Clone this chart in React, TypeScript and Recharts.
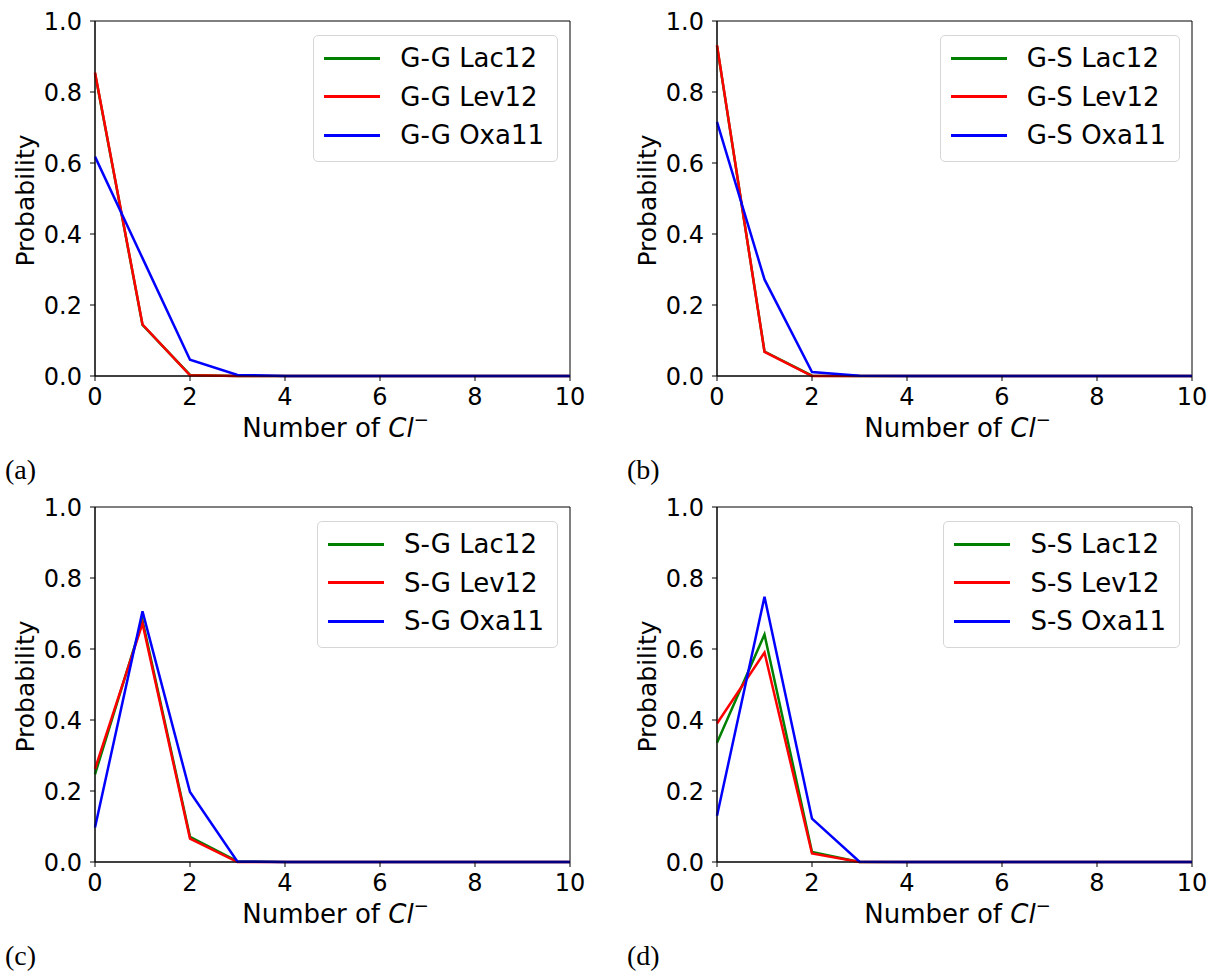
import { LineChart, Line, XAxis, YAxis, Legend, ReferenceArea, Label } from "recharts";

const counts = [0, 1, 2, 3, 4, 5, 6, 7, 8, 9, 10];
const xTicks = [0, 2, 4, 6, 8, 10];
const yTicks = [0, 0.2, 0.4, 0.6, 0.8, 1.0];
const seriesNames = ["Lac12", "Lev12", "Oxa11"];
const seriesColors = ["#008000", "#ff0000", "#0000ff"];

// (a) G-G
const ggLac12 = [0.853, 0.144, 0.003, 0, 0, 0, 0, 0, 0, 0, 0];
const ggLev12 = [0.855, 0.145, 0.002, 0, 0, 0, 0, 0, 0, 0, 0];
const ggOxa11 = [0.618, 0.332, 0.046, 0.003, 0, 0, 0, 0, 0, 0, 0];
// (b) G-S
const gsLac12 = [0.93, 0.069, 0.001, 0, 0, 0, 0, 0, 0, 0, 0];
const gsLev12 = [0.932, 0.068, 0, 0, 0, 0, 0, 0, 0, 0, 0];
const gsOxa11 = [0.716, 0.272, 0.011, 0.001, 0, 0, 0, 0, 0, 0, 0];
// (c) S-G
const sgLac12 = [0.247, 0.68, 0.071, 0.002, 0, 0, 0, 0, 0, 0, 0];
const sgLev12 = [0.262, 0.672, 0.066, 0, 0, 0, 0, 0, 0, 0, 0];
const sgOxa11 = [0.097, 0.706, 0.197, 0.001, 0, 0, 0, 0, 0, 0, 0];
// (d) S-S
const ssLac12 = [0.336, 0.641, 0.028, 0, 0, 0, 0, 0, 0, 0, 0];
const ssLev12 = [0.39, 0.59, 0.024, 0, 0, 0, 0, 0, 0, 0, 0];
const ssOxa11 = [0.13, 0.747, 0.122, 0.001, 0, 0, 0, 0, 0, 0, 0];

const FONT = "'DejaVu Sans', sans-serif";
const FS = 24;

const buildRows = (lac: number[], lev: number[], oxa: number[]) =>
  counts.map((n, i) => ({ n, Lac12: lac[i], Lev12: lev[i], Oxa11: oxa[i] }));

const renderXLabel = (props: any) => {
  const vb = props.viewBox || {};
  return (
    <text
      x={vb.x + vb.width / 2 + 3}
      y={vb.y + 61}
      textAnchor="middle"
      fontFamily={FONT}
      fontSize={26}
      fill="#000"
    >
      <tspan>Number of </tspan>
      <tspan fontStyle="italic">Cl</tspan>
      <tspan dy={-11} fontSize={18}>−</tspan>
    </text>
  );
};

const renderYLabel = (props: any) => {
  const vb = props.viewBox || {};
  const cx = 25;
  const cy = vb.y + vb.height / 2 + 2;
  return (
    <text
      x={cx}
      y={cy}
      transform={`rotate(-90, ${cx}, ${cy})`}
      textAnchor="middle"
      dominantBaseline="central"
      fontFamily={FONT}
      fontSize={25}
      fill="#000"
    >
      Probability
    </text>
  );
};

const makeLegend = (prefix: string) => () => (
  <div
    style={{
      border: "1px solid #d6d6d6",
      borderRadius: 5,
      background: "rgba(255,255,255,0.8)",
      padding: "3px 13px 6px 10px",
      fontFamily: FONT,
      fontSize: 26,
      color: "#000",
    }}
  >
    {seriesNames.map((s, i) => (
      <div key={s} style={{ display: "flex", alignItems: "center", height: 38.5 }}>
        <span
          style={{
            display: "inline-block",
            width: 56,
            height: 3,
            background: seriesColors[i],
            marginRight: 20,
          }}
        />
        <span style={{ whiteSpace: "nowrap" }}>{`${prefix} ${s}`}</span>
      </div>
    ))}
  </div>
);

interface PanelProps {
  left: number;
  top: number;
  prefix: string;
  letter: string;
  lac: number[];
  lev: number[];
  oxa: number[];
}

function Panel({ left, top, prefix, letter, lac, lev, oxa }: PanelProps) {
  const data = buildRows(lac, lev, oxa);
  return (
    <div style={{ position: "absolute", left, top, width: 610, height: 490 }}>
      <LineChart
        width={610}
        height={460}
        data={data}
        margin={{ top: 21, right: 40, left: 0, bottom: 0 }}
      >
        <XAxis
          dataKey="n"
          type="number"
          domain={[0, 10]}
          ticks={xTicks}
          height={84}
          tickSize={5}
          tickMargin={7}
          tick={{ fontSize: FS, fill: "#000", fontFamily: FONT }}
          stroke="#000"
        >
          <Label content={renderXLabel} />
        </XAxis>
        <YAxis
          type="number"
          domain={[0, 1]}
          ticks={yTicks}
          width={95}
          tickSize={5}
          tickMargin={8}
          tickFormatter={(v: number) => v.toFixed(1)}
          tick={{ fontSize: FS, fill: "#000", fontFamily: FONT }}
          stroke="#000"
        >
          <Label content={renderYLabel} />
        </YAxis>
        <ReferenceArea x1={0} x2={10} y1={0} y2={1} fill="none" stroke="#000" strokeWidth={1} />
        {seriesNames.map((s, i) => (
          <Line
            key={s}
            type="linear"
            dataKey={s}
            stroke={seriesColors[i]}
            strokeWidth={2.5}
            dot={false}
            isAnimationActive={false}
          />
        ))}
        <Legend
          layout="vertical"
          align="center"
          verticalAlign="middle"
          content={makeLegend(prefix)}
          wrapperStyle={{ position: "absolute", left: "auto", right: 52, top: 35, width: "auto", height: "auto" }}
        />
      </LineChart>
      <div
        style={{
          position: "absolute",
          left: 5,
          top: 455,
          fontFamily: "'Liberation Serif', 'Times New Roman', serif",
          fontSize: 28,
          lineHeight: "30px",
          color: "#000",
        }}
      >
        {letter}
      </div>
    </div>
  );
}

export default function App() {
  return (
    <div style={{ position: "absolute", left: 0, top: 0, width: 1215, height: 976, background: "#fff" }}>
      <Panel left={0} top={0} prefix="G-G" letter="(a)" lac={ggLac12} lev={ggLev12} oxa={ggOxa11} />
      <Panel left={622} top={0} prefix="G-S" letter="(b)" lac={gsLac12} lev={gsLev12} oxa={gsOxa11} />
      <Panel left={0} top={486} prefix="S-G" letter="(c)" lac={sgLac12} lev={sgLev12} oxa={sgOxa11} />
      <Panel left={622} top={486} prefix="S-S" letter="(d)" lac={ssLac12} lev={ssLev12} oxa={ssOxa11} />
    </div>
  );
}
